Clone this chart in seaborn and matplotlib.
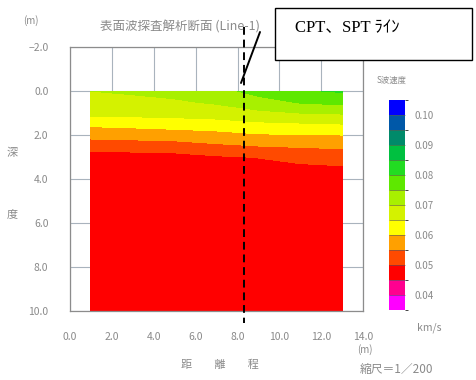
import numpy as np
import matplotlib
matplotlib.use("Agg")
import matplotlib.pyplot as plt
import seaborn as sns
from matplotlib.colors import ListedColormap, BoundaryNorm
from matplotlib.patches import Rectangle
from matplotlib.lines import Line2D

# distance (m) of each profile column and depth (m) of each row
dist = [1.0, 3.0, 5.0, 7.0, 9.0, 11.0, 13.0]
depth = [0.0, 0.5, 1.0, 1.5, 2.0, 2.5, 3.0, 3.5, 4.0, 6.0, 8.0, 10.0]

# S-wave velocity (km/s), one list per column
vs_1 = [0.0700, 0.0685, 0.0665, 0.0610, 0.0568, 0.0518, 0.0480, 0.0470, 0.0470, 0.0470, 0.0470, 0.0470]
vs_3 = [0.0705, 0.0690, 0.0668, 0.0615, 0.0572, 0.0522, 0.0482, 0.0470, 0.0470, 0.0470, 0.0470, 0.0470]
vs_5 = [0.0712, 0.0695, 0.0672, 0.0620, 0.0578, 0.0525, 0.0485, 0.0472, 0.0470, 0.0470, 0.0470, 0.0470]
vs_7 = [0.0730, 0.0705, 0.0680, 0.0625, 0.0585, 0.0540, 0.0495, 0.0475, 0.0472, 0.0470, 0.0470, 0.0470]
vs_9 = [0.0770, 0.0728, 0.0690, 0.0640, 0.0595, 0.0550, 0.0502, 0.0480, 0.0475, 0.0470, 0.0470, 0.0470]
vs_11 = [0.0795, 0.0755, 0.0700, 0.0645, 0.0598, 0.0555, 0.0515, 0.0490, 0.0478, 0.0470, 0.0470, 0.0470]
vs_13 = [0.0805, 0.0765, 0.0705, 0.0650, 0.0600, 0.0560, 0.0520, 0.0495, 0.0480, 0.0472, 0.0470, 0.0470]

levels = [0.035, 0.040, 0.045, 0.050, 0.055, 0.060, 0.065, 0.070,
          0.075, 0.080, 0.085, 0.090, 0.095, 0.100, 0.105]
cbar_ticks = [0.04, 0.05, 0.06, 0.07, 0.08, 0.09, 0.10]
cbar_labels = ["0.04", "0.05", "0.06", "0.07", "0.08", "0.09", "0.10"]
band_colors = ["#ff00ff", "#ff0090", "#ff0000", "#ff4a00", "#ffa000", "#ffff00",
               "#d4f200", "#a8f000", "#5ee800", "#22dc22", "#00c040",
               "#008a6a", "#0058a8", "#0000ff"]

xticks = [0, 2, 4, 6, 8, 10, 12, 14]
xtick_labels = ["0.0", "2.0", "4.0", "6.0", "8.0", "10.0", "12.0", "14.0"]
yticks = [-2, 0, 2, 4, 6, 8, 10]
ytick_labels = ["\u22122.0", "0.0", "2.0", "4.0", "6.0", "8.0", "10.0"]

cpt_x = 8.3

sns.set_style("white")
plt.rcParams['font.family'] = ['Noto Sans CJK JP', 'DejaVu Sans']
gray = "#8a8a8a"

fig = plt.figure(figsize=(4.76, 3.8), dpi=100)
ax = fig.add_axes([0.147, 0.182, 0.616, 0.694])

vs = np.array([vs_1, vs_3, vs_5, vs_7, vs_9, vs_11, vs_13]).T
cmap = ListedColormap(sns.color_palette(band_colors))
norm = BoundaryNorm(levels, cmap.N)
cf = ax.contourf(dist, depth, vs, levels=levels, cmap=cmap, norm=norm, zorder=2)

ax.set_xlim(0, 14)
ax.set_ylim(10, -2)
ax.set_xticks(xticks)
ax.set_xticklabels(xtick_labels)
ax.set_yticks(yticks)
ax.set_yticklabels(ytick_labels)
ax.grid(True, color="#a9b3bd", linewidth=0.8, zorder=0)
ax.set_axisbelow(True)
ax.tick_params(axis="both", labelsize=7.5, colors="#888888", length=3,
               direction="inout", labelcolor=gray)
ax.tick_params(axis="x", pad=14)
ax.tick_params(axis="y", pad=14)
for s in ax.spines.values():
    s.set_color("#8c8c8c")
    s.set_linewidth(0.9)

# CPT / SPT line
ax.plot([cpt_x, cpt_x], [-2.9, 10.55], color="black", linestyle=(0, (4, 2.5)),
        linewidth=1.4, clip_on=False, zorder=5)

# colour bar
cax = fig.add_axes([0.817, 0.184, 0.034, 0.553])
cb = fig.colorbar(cf, cax=cax, ticks=cbar_ticks, drawedges=True)
cb.ax.set_yticklabels(cbar_labels)
cb.ax.tick_params(labelsize=7, length=0, pad=7, labelcolor=gray)
cb.outline.set_visible(False)
cb.dividers.set_color("#555555")
cb.dividers.set_linewidth(0.4)

# texts
fig.text(0.378, 0.929, "表面波探査解析断面 (Line-1)", fontsize=9, color=gray,
         ha="center", va="center")
fig.text(0.065, 0.947, "(m)", fontsize=7, color=gray, ha="center", va="center")
fig.text(0.767, 0.079, "(m)", fontsize=7, color=gray, ha="center", va="center")
fig.text(0.822, 0.789, "S波速度", fontsize=6, color=gray, ha="center", va="center")
fig.text(0.902, 0.137, "km/s", fontsize=7.5, color=gray, ha="center", va="center")
fig.text(0.832, 0.027, "縮尺＝1／200", fontsize=8.5, color=gray, ha="center", va="center")
fig.text(0.025, 0.597, "深", fontsize=8, color=gray, ha="center", va="center")
fig.text(0.025, 0.437, "度", fontsize=8, color=gray, ha="center", va="center")
fig.text(0.462, 0.040, "距　　離　　程", fontsize=8, color=gray, ha="center", va="center")

# callout box
box = Rectangle((275 / 476, 1 - 60 / 380), 197 / 476, 52 / 380, transform=fig.transFigure,
                facecolor="white", edgecolor="black", linewidth=1.0, zorder=10)
fig.patches.append(box)
fig.text(295 / 476, 1 - 28 / 380, "CPT、SPT ﾗｲﾝ", fontsize=12, color="black",
         ha="left", va="center", family=['Liberation Serif', 'Noto Sans CJK JP'], zorder=11)
fig.lines.append(Line2D([260 / 476, 241 / 476], [1 - 32 / 380, 1 - 83 / 380],
                        transform=fig.transFigure, color="black", linewidth=1.4))

fig.savefig("out.png", dpi=100)
